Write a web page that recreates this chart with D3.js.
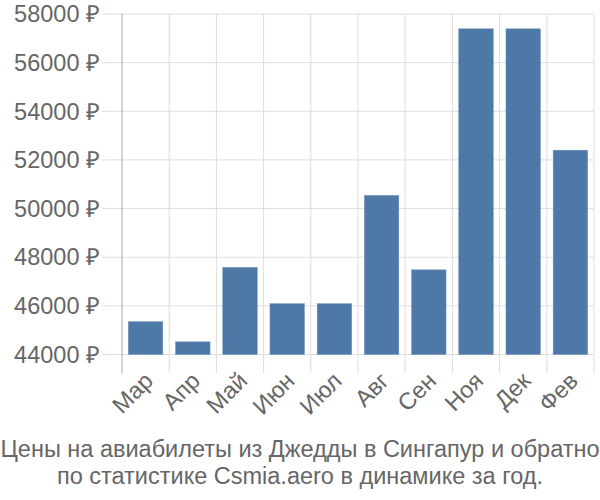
<!DOCTYPE html>
<html><head><meta charset="utf-8">
<script src="https://cdn.jsdelivr.net/npm/d3@7"></script>
<style>body{margin:0;background:#fff}text{font-family:"Liberation Sans",Arial,sans-serif}</style>
</head><body><svg id="c" width="600" height="500"></svg>
<script>
const categories = ["Мар","Апр","Май","Июн","Июл","Авг","Сен","Ноя","Дек","Фев"];
const values = [45350, 44520, 47580, 46090, 46090, 50540, 47480, 57390, 57390, 52400];
const yTicks = [44000, 46000, 48000, 50000, 52000, 54000, 56000, 58000];
const titleLines = ["Цены на авиабилеты из Джедды в Сингапур и обратно", "по статистике Csmia.aero в динамике за год."];

(function(){
const svg = d3.select("#c");
const mLeft = 122, mRight = 594, mTop = 14, mBottom = 354.5;
const fs = 23.5;
const y = d3.scaleLinear().domain([44000, 58000]).range([mBottom, mTop]);

svg.append("g").selectAll("line").data(yTicks).join("line")
  .attr("x1", 102).attr("x2", mRight).attr("y1", d => y(d)).attr("y2", d => y(d))
  .attr("stroke", "#dddddd").attr("stroke-width", 1);
const bounds = d3.range(categories.length + 1).map(i => mLeft + i * (mRight - mLeft) / categories.length);
svg.append("g").selectAll("line").data(bounds.slice(1)).join("line")
  .attr("x1", d => d).attr("x2", d => d).attr("y1", mTop).attr("y2", mBottom + 19)
  .attr("stroke", "#dddddd").attr("stroke-width", 1);
svg.append("line").attr("x1", mLeft).attr("x2", mLeft).attr("y1", mTop).attr("y2", mBottom + 19)
  .attr("stroke", "#aaaaaa").attr("stroke-width", 1);

svg.append("g").selectAll("text").data(yTicks).join("text")
  .attr("x", 100).attr("y", d => y(d)).attr("dy", "0.35em").attr("text-anchor", "end")
  .attr("font-size", fs).attr("fill", "#666666").text(d => d + " ₽");

const xb = d3.scaleBand().domain(categories).range([mLeft, mRight]).paddingInner(0.27).paddingOuter(0.135);
svg.append("g").selectAll("rect").data(values).join("rect")
  .attr("x", (d, i) => xb(categories[i])).attr("width", xb.bandwidth())
  .attr("y", d => y(d)).attr("height", d => mBottom - y(d))
  .attr("fill", "#4e79a7").attr("stroke", "#6a8fba").attr("stroke-width", 0.5);

svg.append("g").selectAll("text").data(categories).join("text")
  .attr("transform", d => `translate(${xb(d) + xb.bandwidth()/2 + 3},${mBottom + 22}) rotate(-45)`)
  .attr("text-anchor", "end").attr("dy", "0.35em")
  .attr("font-size", fs).attr("fill", "#666666").text(d => d);

svg.append("g").selectAll("text").data(titleLines).join("text")
  .attr("x", 300).attr("y", (d, i) => 456.5 + i * 27).attr("text-anchor", "middle")
  .attr("font-size", fs).attr("fill", "#666666").text(d => d);
})();
</script></body></html>
